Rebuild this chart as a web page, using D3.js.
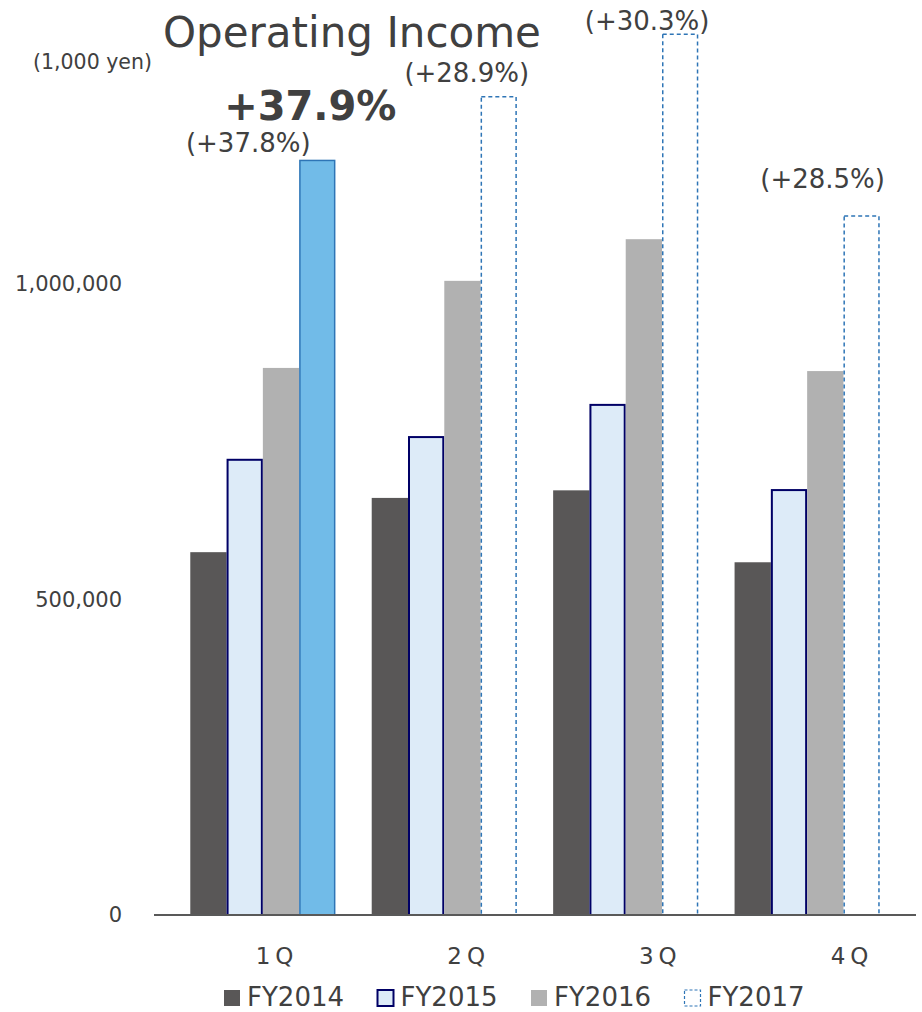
<!DOCTYPE html>
<html>
<head>
<meta charset="utf-8">
<script src="https://cdn.jsdelivr.net/npm/d3@7/dist/d3.min.js"></script>
<style>
  html, body { margin: 0; padding: 0; background: #ffffff; }
  svg { display: block; font-family: "DejaVu Sans", Verdana, sans-serif; }
</style>
</head>
<body>
<svg id="chart" width="922" height="1012"></svg>
<script>
// ---- data ----
const categories = ["1Q", "2Q", "3Q", "4Q"];
const seriesNames = ["FY2014", "FY2015", "FY2016", "FY2017"];
const fy2014 = [575000, 661000, 673000, 559000];
const fy2015 = [723000, 759000, 810000, 675000];
const fy2016 = [867000, 1005000, 1071000, 862000];
const fy2017 = [1197000, 1298000, 1397000, 1109000];
const growthLabels = ["(+37.8%)", "(+28.9%)", "(+30.3%)", "(+28.5%)"];
const highlightLabel = "+37.9%";
const yTicks = [0, 500000, 1000000];
const title = "Operating Income";
const unitLabel = "(1,000 yen)";

// ---- layout (not data) ----
const noteShift = [[-69, -8], [-32, -14], [-33, -3], [-39, -27]];
const textColor = "#404040";

const svg = d3.select("#chart");
const axisLeft = 154, axisRight = 916;
const baseY = 915;

const values = [fy2014, fy2015, fy2016, fy2017];
const rows = [];
seriesNames.forEach((s, si) => {
  categories.forEach((c, ci) => {
    rows.push({ series: s, si, cat: c, ci, value: values[si][ci] });
  });
});

const x0 = d3.scaleBand().domain(categories).range([axisLeft, axisRight])
  .paddingInner(0.2).paddingOuter(0.2);
const x1 = d3.scaleBand().domain(seriesNames).range([0, x0.bandwidth()]).padding(0);
const y = d3.scaleLinear().domain([0, 1000000]).range([baseY, 284]);

// title
svg.append("text").attr("x", 352).attr("y", 47).attr("text-anchor", "middle")
  .attr("font-size", 42).attr("fill", textColor).text(title);
svg.append("text").attr("x", 33).attr("y", 69).attr("text-anchor", "start")
  .attr("font-size", 20.5).attr("fill", textColor).text(unitLabel);

// y tick labels
svg.append("g").selectAll("text").data(yTicks).join("text")
  .attr("x", 122).attr("y", d => y(d)).attr("dy", "0.35em")
  .attr("text-anchor", "end").attr("font-size", 21).attr("fill", textColor)
  .text(d => d3.format(",")(d));

// bars
const styleFor = d => {
  if (d.si === 0) return { fill: "#595757", stroke: "none", sw: 0, dash: null };
  if (d.si === 1) return { fill: "#DDEBF8", stroke: "#000066", sw: 2, dash: null };
  if (d.si === 2) return { fill: "#B1B1B1", stroke: "none", sw: 0, dash: null };
  if (d.ci === 0) return { fill: "#71BBE8", stroke: "#2E75B6", sw: 1.5, dash: null };
  return { fill: "none", stroke: "#2E75B6", sw: 1.5, dash: "4,3" };
};

svg.append("g").selectAll("rect").data(rows).join("rect")
  .attr("x", d => x0(d.cat) + x1(d.series) + styleFor(d).sw / 2)
  .attr("y", d => y(d.value) + styleFor(d).sw / 2)
  .attr("width", d => x1.bandwidth() - styleFor(d).sw)
  .attr("height", d => baseY - y(d.value) - styleFor(d).sw / 2)
  .attr("fill", d => styleFor(d).fill)
  .attr("stroke", d => styleFor(d).stroke)
  .attr("stroke-width", d => styleFor(d).sw)
  .attr("stroke-dasharray", d => styleFor(d).dash);

// axis line
svg.append("line").attr("x1", axisLeft).attr("x2", axisRight)
  .attr("y1", baseY).attr("y2", baseY)
  .attr("stroke", "#595959").attr("stroke-width", 2);

// category labels
const xl = d3.scalePoint().domain(categories).range([277, 852]);
svg.append("g").selectAll("text").data(categories).join("text")
  .attr("x", d => xl(d)).attr("y", 964).attr("text-anchor", "middle")
  .attr("font-size", 23).attr("letter-spacing", 5).attr("fill", textColor)
  .text(d => d);

// growth labels above FY2017 bars
svg.append("g").selectAll("text").data(categories).join("text")
  .attr("x", (d, i) => x0(d) + x1("FY2017") + x1.bandwidth() / 2 + noteShift[i][0])
  .attr("y", (d, i) => y(fy2017[i]) + noteShift[i][1])
  .attr("text-anchor", "middle").attr("font-size", 26).attr("fill", textColor)
  .text((d, i) => growthLabels[i]);

svg.append("text")
  .attr("x", x0("1Q") + x1("FY2017") + x1.bandwidth() / 2 - 7)
  .attr("y", y(fy2017[0]) - 40)
  .attr("text-anchor", "middle").attr("font-size", 40).attr("font-weight", "bold")
  .attr("fill", textColor).text(highlightLabel);

// legend
const legendStyles = [
  { fill: "#595757", stroke: "none", sw: 0, dash: null },
  { fill: "#DDEBF8", stroke: "#000066", sw: 2, dash: null },
  { fill: "#B1B1B1", stroke: "none", sw: 0, dash: null },
  { fill: "none", stroke: "#2E75B6", sw: 1.2, dash: "3,2" }
];
const lg = svg.append("g").selectAll("g").data(seriesNames).join("g")
  .attr("transform", (d, i) => `translate(${224 + i * 153.5},0)`);
lg.append("rect").attr("x", 0).attr("y", 990).attr("width", 16).attr("height", 16)
  .attr("fill", (d, i) => legendStyles[i].fill)
  .attr("stroke", (d, i) => legendStyles[i].stroke)
  .attr("stroke-width", (d, i) => legendStyles[i].sw)
  .attr("stroke-dasharray", (d, i) => legendStyles[i].dash);
lg.append("text").attr("x", 23).attr("y", 1006).attr("font-size", 26)
  .attr("fill", textColor).text(d => d);
</script>
</body>
</html>
